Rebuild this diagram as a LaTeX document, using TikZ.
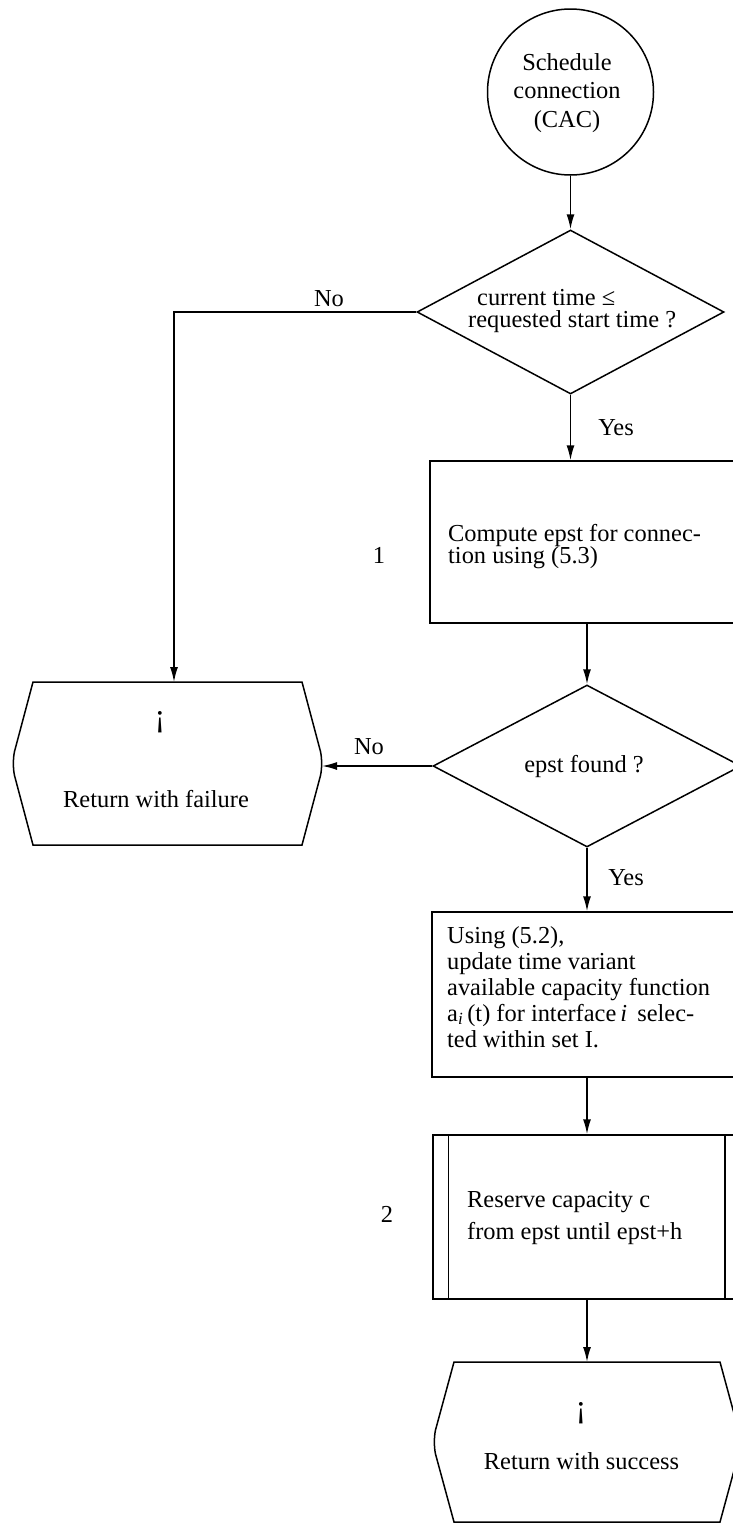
\documentclass[tikz,border=0pt]{standalone}
\usepackage{fontspec}
\setmainfont{Liberation Serif}
\usetikzlibrary{shapes.geometric,arrows.meta,calc}

% Outline of a terminal box: straight top and bottom, sides bent outwards
\newcommand\drawterminal[1]{%
  \draw[ln] ($(#1.north west)+(20,0)$) -- ($(#1.west)+(1.5,-12)$)
    .. controls ($(#1.west)+(0,-5)$) and ($(#1.west)+(0,5)$) .. ($(#1.west)+(1.5,12)$)
    -- ($(#1.south west)+(20,0)$) -- ($(#1.south east)+(-20,0)$)
    -- ($(#1.east)+(-1.5,12)$)
    .. controls ($(#1.east)+(0,5)$) and ($(#1.east)+(0,-5)$) .. ($(#1.east)+(-1.5,-12)$)
    -- ($(#1.north east)+(-20,0)$) -- cycle;}

\begin{document}
\begin{tikzpicture}[x=1pt,y=-1pt,
  ln/.style={line width=1.5pt, draw=black},
  arr/.style={ln, -{Latex[length=15pt,width=8pt]}},
  txt/.style={inner sep=0pt, font=\fontsize{24.4}{26}\selectfont, text=black},
  bang/.style={inner sep=0pt, font=\fontsize{32}{32}\selectfont, text=black},
  procbox/.style={ln, draw, rectangle, inner sep=0pt},
  decision/.style={ln, draw, diamond, inner sep=0pt},
  terminal/.style={rectangle, inner sep=0pt, outer sep=0pt}
]
\useasboundingbox (0,0) rectangle (733,1524);
\clip (0,0) rectangle (733,1524);
\fill[white] (0,0) rectangle (733,1524);

% start
\node[ln, draw, circle, minimum size=166pt, inner sep=0pt] (start) at (570.5,92) {};
\node[txt, anchor=base] (s1) at (567,70) {Schedule};
\node[txt, anchor=base] (s2) at (567,98) {connection};
\node[txt, anchor=base] (s3) at (567,127) {(CAC)};

% first decision
\node[decision, minimum width=307pt, minimum height=164pt] (d1) at (570.5,312) {};
\node[txt, anchor=base west] (q1) at (477,305) {current time ≤};
\node[txt, anchor=base west] (q2) at (468,327) {requested start time ?};
\node[txt, anchor=base] (no1) at (329,306) {No};
\node[txt, anchor=base] (yes1) at (616,435) {Yes};

% step 1
\node[procbox, minimum width=314pt, minimum height=162pt] (box1) at (587,542) {};
\node[txt, anchor=base west] (c1) at (448,541) {Compute epst for connec-};
\node[txt, anchor=base west] (c2) at (448,563) {tion using (5.3)};
\node[txt, anchor=base] (n1) at (379,563) {1};

% second decision
\node[decision, minimum width=308pt, minimum height=162pt] (d2) at (587,766) {};
\node[txt, anchor=base] (q3) at (584,772) {epst found ?};
\node[txt, anchor=base] (no2) at (369,754) {No};
\node[txt, anchor=base] (yes2) at (626,885) {Yes};

% failure exit
\node[terminal, minimum width=309pt, minimum height=163pt] (fail) at (167.5,763.5) {};
\drawterminal{fail}
\node[bang] (f1) at (160,722) {¡};
\node[txt, anchor=base] (f2) at (156,807) {Return with failure};

% capacity update
\node[procbox, minimum width=310pt, minimum height=165pt] (box2) at (587,994.5) {};
\node[txt, anchor=base west] (u1) at (447,943) {Using (5.2),};
\node[txt, anchor=base west] (u2) at (447,969) {update time variant};
\node[txt, anchor=base west] (u3) at (447,995) {available capacity function};
\node[txt, anchor=base west] (u4) at (447,1021) {a\textsubscript{\textit{i}}\,(t) for interface\,\textit{i}\, selec-};
\node[txt, anchor=base west] (u5) at (447,1047) {ted within set I.};

% step 2: predefined process
\node[procbox, minimum width=308pt, minimum height=164pt] (box3) at (587,1217) {};
\draw[ln] ($(box3.north west)+(16,0)$) -- ($(box3.south west)+(16,0)$);
\draw[ln] ($(box3.north east)+(-17,0)$) -- ($(box3.south east)+(-17,0)$);
\node[txt, anchor=base west] (r1) at (467,1207) {Reserve capacity c};
\node[txt, anchor=base west] (r2) at (467,1239) {from epst until epst+h};
\node[txt, anchor=base] (n2) at (387,1222) {2};

% success exit
\node[terminal, minimum width=306pt, minimum height=160pt] (succ) at (587,1442) {};
\drawterminal{succ}
\node[bang] (g1) at (581,1413) {¡};
\node[txt, anchor=base] (g2) at (581.5,1469) {Return with success};

% connectors
\coordinate (turn1) at (174,312);
\draw[arr] (start.south) -- (d1.north);
\draw[arr] (d1.west) -- (turn1) -- (turn1 |- fail.north);
\draw[arr] (d1.south) -- (d1.south |- box1.north);
\draw[arr] (box1.south) -- (d2.north);
\draw[arr] (d2.west) -- (fail.east |- d2.west);
\draw[arr] (d2.south) -- (box2.north);
\draw[arr] (box2.south) -- (box3.north);
\draw[arr] (box3.south) -- (succ.north);
\end{tikzpicture}
\end{document}
